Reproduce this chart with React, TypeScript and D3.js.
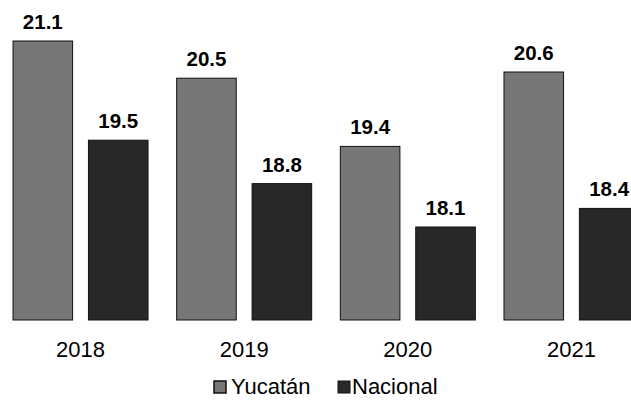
import { useMemo } from 'react';
import * as d3 from 'd3';

const years = ['2018', '2019', '2020', '2021'];
const series = ['Yucatán', 'Nacional'];
const yucatan = [21.1, 20.5, 19.4, 20.6];
const nacional = [19.5, 18.8, 18.1, 18.4];

const colors: Record<string, string> = {
  'Yucatán': '#777777',
  'Nacional': '#282828',
};

const W = 631;
const H = 404;

export default function App() {
  const x = useMemo(
    () => d3.scaleBand<string>().domain(years).range([-1.3, 653.3]).paddingInner(0.175).paddingOuter(0.0875),
    []
  );
  const xs = useMemo(
    () => d3.scaleBand<string>().domain(series).range([0, x.bandwidth()]).paddingInner(0.21).paddingOuter(0),
    [x]
  );
  // axis isn't zero-based in the original
  const y = useMemo(() => d3.scaleLinear().domain([16.6, 21.1]).range([320, 41]), []);

  const rows = years.map((yr, i) => ({ year: yr, values: [yucatan[i], nacional[i]] }));
  const font = '"Liberation Sans", Arial, sans-serif';

  return (
    <svg width={W} height={H} style={{ position: 'absolute', left: 0, top: 0, background: '#fff' }} fontFamily={font}>
      {rows.map((r) => (
        <g key={r.year} transform={`translate(${x(r.year)},0)`}>
          {series.map((s, j) => {
            const v = r.values[j];
            const bx = xs(s)!;
            return (
              <g key={s}>
                <rect
                  x={bx}
                  y={y(v)}
                  width={xs.bandwidth()}
                  height={y.range()[0] - y(v)}
                  fill={colors[s]}
                  stroke="#111"
                  strokeWidth={1}
                />
                <text
                  x={bx + xs.bandwidth() / 2}
                  y={y(v) - 12}
                  textAnchor="middle"
                  fontSize={20.5}
                  fontWeight="bold"
                  fill="#000"
                >
                  {v.toFixed(1)}
                </text>
              </g>
            );
          })}
          <text x={x.bandwidth() / 2} y={357} textAnchor="middle" fontSize={22} fill="#000">
            {r.year}
          </text>
        </g>
      ))}

      {/* legend */}
      <g transform="translate(214,381)">
        <rect x={0} y={0} width={12} height={12} fill={colors['Yucatán']} stroke="#111" strokeWidth={1.5} />
        <text x={17} y={13} fontSize={22} fill="#000">Yucatán</text>
        <rect x={124} y={0} width={12} height={12} fill={colors['Nacional']} stroke="#111" strokeWidth={1} />
        <text x={138} y={13} fontSize={22} fill="#000">Nacional</text>
      </g>
    </svg>
  );
}
